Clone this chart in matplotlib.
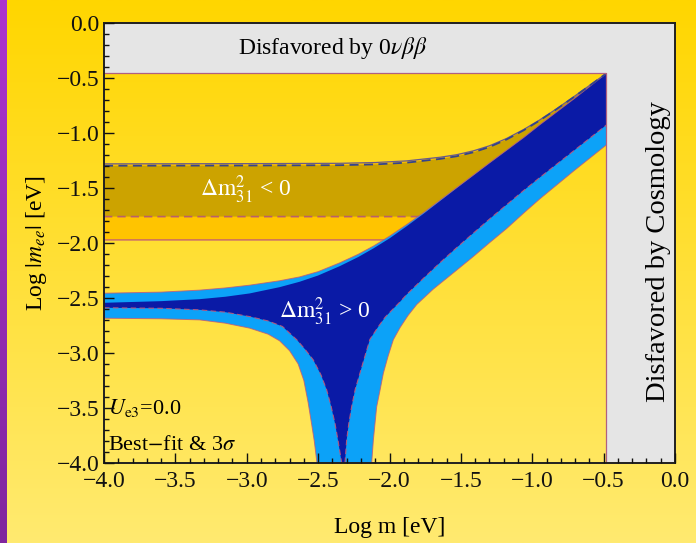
import numpy as np
import matplotlib
matplotlib.use("Agg")
import matplotlib.pyplot as plt
from matplotlib.ticker import MultipleLocator, FuncFormatter

plt.rcParams['font.family'] = ['Liberation Serif', 'DejaVu Serif']
plt.rcParams['mathtext.fontset'] = 'stix'

# ---------------- data (log10 of masses in eV) ----------------
# experimental bounds
bound_0vbb = -0.457
bound_cosmo = -0.48

# normal ordering (dm31^2 > 0): upper edges, best fit and 3 sigma
nh_bf_max_x = [-4.0, -3.6, -3.33, -3.15, -2.98, -2.77, -2.63, -2.50, -2.35, -2.22, -2.11,
               -2.00, -1.88, -1.76, -1.53, -1.30, -1.06, -0.95, -0.70, -0.48]
nh_bf_max_y = [-2.545, -2.530, -2.512, -2.490, -2.460, -2.403, -2.354, -2.297, -2.213, -2.130,
               -2.049, -1.960, -1.850, -1.735, -1.504, -1.277, -1.045, -0.932, -0.685, -0.460]
nh_3s_max_x = nh_bf_max_x
nh_3s_max_y = [-2.458, -2.448, -2.430, -2.410, -2.385, -2.345, -2.310, -2.262, -2.183, -2.105,
               -2.028, -1.940, -1.835, -1.725, -1.500, -1.275, -1.044, -0.931, -0.685, -0.460]

# normal ordering: lower edges, branch left of the cancellation and branch right of it
nh_bf_min_l_x = [-4.0, -3.6, -3.33, -3.15, -2.98, -2.85, -2.75, -2.65, -2.59, -2.534, -2.48,
                 -2.44, -2.41, -2.382, -2.36, -2.335]
nh_bf_min_l_y = [-2.590, -2.595, -2.609, -2.630, -2.670, -2.710, -2.760, -2.880, -2.970, -3.064,
                 -3.200, -3.336, -3.480, -3.639, -3.800, -4.0]
nh_bf_min_r_x = [-2.312, -2.30, -2.285, -2.265, -2.24, -2.207, -2.17, -2.137, -2.08, -2.03,
                 -1.926, -1.879, -1.76, -1.646, -1.53, -1.413, -1.30, -1.179, -1.06, -0.946,
                 -0.70, -0.48]
nh_bf_min_r_y = [-4.0, -3.79, -3.64, -3.488, -3.33, -3.184, -3.02, -2.877, -2.765, -2.675,
                 -2.536, -2.469, -2.320, -2.181, -2.045, -1.913, -1.785, -1.654, -1.525, -1.406,
                 -1.155, -0.930]

nh_3s_min_l_x = [-4.0, -3.6, -3.33, -3.15, -2.98, -2.85, -2.77, -2.70, -2.64, -2.60, -2.57,
                 -2.545, -2.527, -2.508]
nh_3s_min_l_y = [-2.685, -2.690, -2.700, -2.730, -2.775, -2.830, -2.890, -2.980, -3.100, -3.250,
                 -3.450, -3.650, -3.800, -4.0]
nh_3s_min_r_x = [-2.125, -2.113, -2.09, -2.065, -2.043, -2.01, -1.973, -1.926, -1.87, -1.809,
                 -1.693, -1.55, -1.413, -1.30, -1.179, -1.06, -0.946, -0.712, -0.48]
nh_3s_min_r_y = [-4.0, -3.79, -3.49, -3.33, -3.184, -3.03, -2.88, -2.77, -2.66, -2.56,
                 -2.42, -2.27, -2.125, -2.00, -1.87, -1.73, -1.60, -1.35, -1.11]

# inverted ordering (dm31^2 < 0)
ih_bf_max_x = [-4.0, -3.0, -2.35, -2.10, -1.88, -1.646, -1.53, -1.413, -1.30, -1.179, -1.06,
               -0.95, -0.83, -0.715, -0.60, -0.476]
ih_bf_max_y = [-1.300, -1.298, -1.295, -1.288, -1.272, -1.238, -1.214, -1.178, -1.130, -1.061,
               -0.978, -0.891, -0.787, -0.682, -0.574, -0.457]
ih_3s_max_x = ih_bf_max_x
ih_3s_max_y = [-1.283, -1.281, -1.278, -1.271, -1.256, -1.223, -1.200, -1.165, -1.119, -1.052,
               -0.971, -0.886, -0.783, -0.679, -0.572, -0.457]
ih_bf_min_x = [-4.0, -1.70, -1.20, -0.80, -0.48]
ih_bf_min_y = [-1.762, -1.762, -1.55, -1.15, -0.85]
ih_3s_min_x = [-4.0, -1.90, -1.40, -1.00, -0.48]
ih_3s_min_y = [-1.974, -1.974, -1.85, -1.50, -1.00]

# ---------------- style ----------------
navy = '#0a1aa6'
sky = '#0ca2f8'
gold = '#cca300'
amber = '#ffc400'
grey = '#e5e5e5'
edge = '#c05878'

W, H = 696, 543
fig = plt.figure(figsize=(W / 100, H / 100), dpi=100)

# yellow backdrop with a soft vertical gradient
bg = fig.add_axes([0, 0, 1, 1])
bg.set_zorder(-2)
t = np.linspace(0, 1, 256)[:, None, None]
c_top = np.array([255, 214, 0]) / 255
c_bot = np.array([255, 234, 112]) / 255
bg.imshow(c_top * (1 - t) + c_bot * t, aspect='auto', extent=[0, 1, 0, 1])
bg.axis('off')

# purple strip at the left edge
strip = fig.add_axes([0, 0, 7 / W, 1])
strip.set_zorder(-1)
p_top = np.array([172, 52, 206]) / 255
p_bot = np.array([128, 38, 158]) / 255
strip.imshow(p_top * (1 - t) + p_bot * t, aspect='auto', extent=[0, 1, 0, 1])
strip.axis('off')

ax = fig.add_axes([104 / W, 1 - 463 / H, 571 / W, 440.4 / H])
ax.set_facecolor('none')
ax.set_xlim(-4, 0)
ax.set_ylim(-4, 0)

# inverted ordering bands
ih3_px = list(ih_3s_max_x) + ih_3s_min_x[::-1]
ih3_py = list(ih_3s_max_y) + ih_3s_min_y[::-1]
ax.fill(ih3_px, ih3_py, color=amber, lw=0, zorder=2)
ihb_px = list(ih_bf_max_x) + ih_bf_min_x[::-1]
ihb_py = list(ih_bf_max_y) + ih_bf_min_y[::-1]
ax.fill(ihb_px, ihb_py, color=gold, lw=0, zorder=2.1)
ax.plot(ih_3s_min_x, ih_3s_min_y, color=edge, lw=0.9, zorder=2.2)
ax.plot(ih_bf_min_x, ih_bf_min_y, color='#b8606a', lw=1.2, ls=(0, (5, 3)), zorder=2.2)

# normal ordering bands
nh3_px = list(nh_3s_max_x) + nh_3s_min_r_x[::-1] + nh_3s_min_l_x[::-1]
nh3_py = list(nh_3s_max_y) + nh_3s_min_r_y[::-1] + nh_3s_min_l_y[::-1]
ax.fill(nh3_px, nh3_py, color=sky, lw=0, zorder=3)
nhb_px = list(nh_bf_max_x) + nh_bf_min_r_x[::-1] + nh_bf_min_l_x[::-1]
nhb_py = list(nh_bf_max_y) + nh_bf_min_r_y[::-1] + nh_bf_min_l_y[::-1]
ax.fill(nhb_px, nhb_py, color=navy, lw=0, zorder=3.1)
for xs, ys in [(nh_3s_min_l_x, nh_3s_min_l_y), (nh_3s_min_r_x, nh_3s_min_r_y),
               (nh_3s_max_x, nh_3s_max_y)]:
    ax.plot(xs, ys, color=edge, lw=0.7, alpha=0.8, zorder=3.2)
for xs, ys in [(nh_bf_min_l_x, nh_bf_min_l_y), (nh_bf_min_r_x, nh_bf_min_r_y)]:
    ax.plot(xs, ys, color=edge, lw=0.8, ls=(0, (5, 3)), alpha=0.9, zorder=3.2)

# upper edges of the inverted band run over the normal band
ax.plot(ih_3s_max_x, ih_3s_max_y, color='#6a5a8a', lw=0.9, zorder=3.5)
ax.plot(ih_bf_max_x, ih_bf_max_y, color='#34448c', lw=1.3, ls=(0, (5, 3)), zorder=3.5)

# excluded regions
ax.fill([-4, 0, 0, bound_cosmo, bound_cosmo, -4],
        [0, 0, -4, -4, bound_0vbb, bound_0vbb], color=grey, lw=0, zorder=8)
ax.plot([-4, bound_cosmo, bound_cosmo], [bound_0vbb, bound_0vbb, -4],
        color='#b06080', lw=0.9, zorder=9)

# annotations
ax.text(-2.40, -0.23, r'Disfavored by 0$\nu\beta\beta$', ha='center', va='center',
        fontsize=17, zorder=10)
ax.text(-0.119, -2.083, 'Disfavored by Cosmology', rotation=90, ha='center', va='center',
        fontsize=20.5, zorder=10)
ax.text(-3.005, -1.52, r'$\Delta\mathrm{m}^2_{31}$ < 0', color='white', ha='center',
        va='center', fontsize=17, zorder=10)
ax.text(-2.452, -2.63, r'$\Delta\mathrm{m}^2_{31}$ > 0', color='white', ha='center',
        va='center', fontsize=17, zorder=10)
ax.text(-3.975, -3.50, r'$U_{\mathrm{e3}}$=0.0', ha='left', va='center', fontsize=16,
        zorder=10)
ax.text(-3.975, -3.84, r'Best$-$fit & 3$\sigma$', ha='left', va='center', fontsize=16,
        zorder=10)

# axes, ticks and labels
def fmt(v, pos):
    s = f"{v:.1f}"
    if s == "-0.0":
        s = "0.0"
    return s.replace('-', '\u2212')

for axis in (ax.xaxis, ax.yaxis):
    axis.set_major_locator(MultipleLocator(0.5))
    axis.set_minor_locator(MultipleLocator(0.1))
    axis.set_major_formatter(FuncFormatter(fmt))
    axis.set_zorder(20)
ax.tick_params(which='both', direction='in', top=False, right=False, width=1,
               labelsize=17, colors='#111111')
ax.tick_params(which='major', length=7)
ax.tick_params(which='minor', length=3.5)
ax.tick_params(axis='x', pad=6)
ax.tick_params(axis='y', pad=3)
for sp in ax.spines.values():
    sp.set_linewidth(1.4)
    sp.set_color('#202020')
    sp.set_zorder(20)

ax.set_xlabel('Log m [eV]', fontsize=17, labelpad=18)
ax.set_ylabel(r'Log $|m_{ee}|$ [eV]', fontsize=17, labelpad=6)

fig.savefig('out.png', dpi=100)
